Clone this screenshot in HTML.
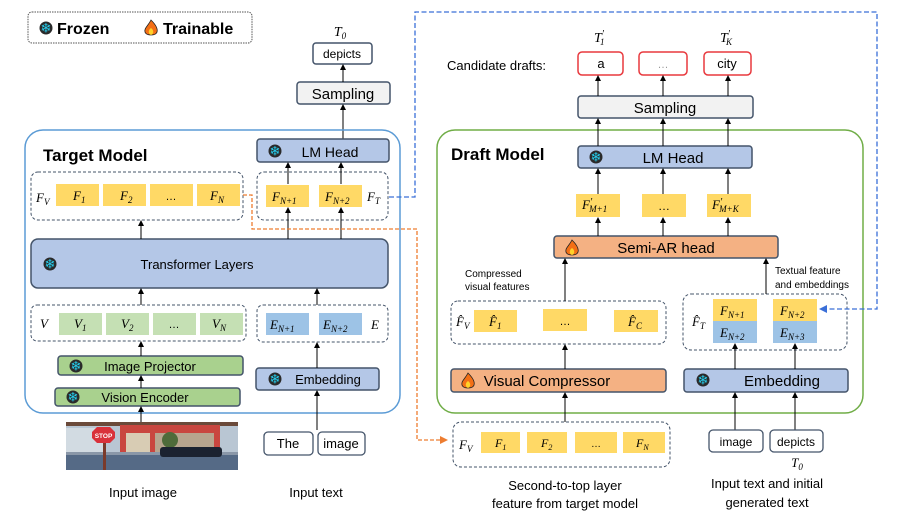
<!DOCTYPE html>
<html><head><meta charset="utf-8"><style>
html,body{margin:0;padding:0;background:#fff;}
svg{display:block;font-family:"Liberation Sans",sans-serif;}
.m{font-family:"Liberation Serif",serif;font-style:italic;}
</style></head><body>
<svg width="897" height="520" viewBox="0 0 897 520" xmlns="http://www.w3.org/2000/svg">
<defs>
<marker id="a" markerWidth="6" markerHeight="6" refX="5" refY="3" orient="auto" markerUnits="userSpaceOnUse"><path d="M0,0 L6,3 L0,6z" fill="#000"/></marker>
<marker id="ab" markerWidth="8" markerHeight="8" refX="7" refY="4" orient="auto" markerUnits="userSpaceOnUse"><path d="M0,0 L8,4 L0,8z" fill="#3a6fd8"/></marker>
<marker id="ao" markerWidth="8" markerHeight="8" refX="7" refY="4" orient="auto" markerUnits="userSpaceOnUse"><path d="M0,0 L8,4 L0,8z" fill="#ed7d31"/></marker>
<g id="snow"><circle cx="0" cy="0" r="6.5" fill="#2a2a2a"/><text x="0" y="4.5" font-size="13" text-anchor="middle" fill="#27d0f0" font-family="DejaVu Sans">❄</text></g>
<g id="fire"><path d="M0,-8 C5,-3 7,1 6,4 C5,8 -5,8 -6,4 C-7,0 -3,-2 0,-8z" fill="#f36f16" stroke="#222" stroke-width="0.8"/><path d="M0,0 C3,2 3,6 0,7 C-3,6 -3,2 0,0z" fill="#ffd22a"/></g>
</defs>

<!-- legend -->
<rect x="28" y="12" width="224" height="31" rx="4" fill="#fff" stroke="#555" stroke-dasharray="1.5,1"/>
<use href="#snow" x="46" y="28"/>
<text x="57" y="34" font-size="16" font-weight="bold">Frozen</text>
<use href="#fire" x="151" y="28"/>
<text x="163" y="34" font-size="16" font-weight="bold">Trainable</text>

<!-- target top -->
<text x="340" y="36" class="m" font-size="14" text-anchor="middle">T<tspan font-size="9" dy="3">0</tspan></text>
<rect x="313" y="43" width="59" height="21" rx="3" fill="#fff" stroke="#44546a" stroke-width="1.5"/>
<text x="342" y="58" font-size="12" text-anchor="middle">depicts</text>
<rect x="297" y="82" width="93" height="22" rx="3" fill="#f2f2f2" stroke="#44546a" stroke-width="1.5"/>
<text x="343" y="99" font-size="15" text-anchor="middle">Sampling</text>
<line x1="343" y1="82" x2="343" y2="65" stroke="#000" marker-end="url(#a)"/>
<line x1="343" y1="139" x2="343" y2="105" stroke="#000" marker-end="url(#a)"/>

<!-- Target model -->
<rect x="25" y="130" width="375" height="283" rx="18" fill="none" stroke="#5b9bd5" stroke-width="1.5"/>
<text x="43" y="161" font-size="17" font-weight="bold">Target Model</text>
<rect x="257" y="139" width="132" height="23" rx="3" fill="#b4c7e7" stroke="#44546a" stroke-width="1.5"/>
<use href="#snow" x="275" y="151"/>
<text x="330" y="157" font-size="14" text-anchor="middle">LM Head</text>

<rect x="31" y="172" width="212" height="48" rx="7" fill="#fff" stroke="#44546a" stroke-dasharray="3,2"/>
<text x="36" y="202" class="m" font-size="13">F<tspan font-size="9" dy="3">V</tspan></text>
<rect x="56" y="184" width="43" height="22" fill="#ffd966"/>
<rect x="103" y="184" width="43" height="22" fill="#ffd966"/>
<rect x="150" y="184" width="43" height="22" fill="#ffd966"/>
<rect x="197" y="184" width="43" height="22" fill="#ffd966"/>
<text x="73" y="200" class="m" font-size="13">F<tspan font-size="9" dy="3">1</tspan></text>
<text x="120" y="200" class="m" font-size="13">F<tspan font-size="9" dy="3">2</tspan></text>
<text x="171" y="200" font-size="11" text-anchor="middle">…</text>
<text x="210" y="200" class="m" font-size="13">F<tspan font-size="9" dy="3">N</tspan></text>

<rect x="257" y="172" width="131" height="48" rx="7" fill="#fff" stroke="#44546a" stroke-dasharray="3,2"/>
<rect x="266" y="185" width="43" height="22" fill="#ffd966"/>
<rect x="319" y="185" width="43" height="22" fill="#ffd966"/>
<text x="272" y="201" class="m" font-size="13">F<tspan font-size="9" dy="3">N+1</tspan></text>
<text x="325" y="201" class="m" font-size="13">F<tspan font-size="9" dy="3">N+2</tspan></text>
<text x="367" y="201" class="m" font-size="13">F<tspan font-size="9" dy="3">T</tspan></text>

<rect x="31" y="239" width="357" height="49" rx="7" fill="#b4c7e7" stroke="#44546a" stroke-width="1.5"/>
<use href="#snow" x="50" y="264"/>
<text x="197" y="269" font-size="13" text-anchor="middle">Transformer Layers</text>

<rect x="31" y="305" width="215" height="36" rx="6" fill="#fff" stroke="#44546a" stroke-dasharray="3,2"/>
<text x="40" y="328" class="m" font-size="13">V</text>
<rect x="59" y="313" width="43" height="22" fill="#c5e0b4"/>
<rect x="106" y="313" width="43" height="22" fill="#c5e0b4"/>
<rect x="153" y="313" width="43" height="22" fill="#c5e0b4"/>
<rect x="200" y="313" width="43" height="22" fill="#c5e0b4"/>
<text x="74" y="328" class="m" font-size="13">V<tspan font-size="9" dy="3">1</tspan></text>
<text x="121" y="328" class="m" font-size="13">V<tspan font-size="9" dy="3">2</tspan></text>
<text x="174" y="328" font-size="11" text-anchor="middle">…</text>
<text x="212" y="328" class="m" font-size="13">V<tspan font-size="9" dy="3">N</tspan></text>

<rect x="257" y="305" width="131" height="37" rx="6" fill="#fff" stroke="#44546a" stroke-dasharray="3,2"/>
<rect x="266" y="313" width="43" height="22" fill="#9dc3e6"/>
<rect x="319" y="313" width="43" height="22" fill="#9dc3e6"/>
<text x="270" y="329" class="m" font-size="13">E<tspan font-size="9" dy="3">N+1</tspan></text>
<text x="323" y="329" class="m" font-size="13">E<tspan font-size="9" dy="3">N+2</tspan></text>
<text x="371" y="329" class="m" font-size="13">E</text>

<rect x="58" y="356" width="185" height="19" rx="3" fill="#a9d18e" stroke="#44546a" stroke-width="1.5"/>
<use href="#snow" x="76" y="366"/>
<text x="150" y="371" font-size="13" text-anchor="middle">Image Projector</text>
<rect x="55" y="388" width="185" height="18" rx="3" fill="#a9d18e" stroke="#44546a" stroke-width="1.5"/>
<use href="#snow" x="73" y="397"/>
<text x="145" y="402" font-size="13" text-anchor="middle">Vision Encoder</text>
<rect x="256" y="368" width="123" height="22" rx="3" fill="#b4c7e7" stroke="#44546a" stroke-width="1.5"/>
<use href="#snow" x="275" y="379"/>
<text x="328" y="384" font-size="13" text-anchor="middle">Embedding</text>

<g stroke="#000" marker-end="url(#a)">
<line x1="288" y1="184" x2="288" y2="163"/>
<line x1="341" y1="184" x2="341" y2="163"/>
<line x1="288" y1="239" x2="288" y2="208"/>
<line x1="341" y1="239" x2="341" y2="208"/>
<line x1="141" y1="239" x2="141" y2="221"/>
<line x1="141" y1="305" x2="141" y2="289"/>
<line x1="317" y1="305" x2="317" y2="289"/>
<line x1="141" y1="356" x2="141" y2="342"/>
<line x1="317" y1="368" x2="317" y2="343"/>
<line x1="141" y1="388" x2="141" y2="376"/>
<line x1="141" y1="422" x2="141" y2="407"/>
<line x1="317" y1="430" x2="317" y2="391"/>
</g>

<!-- input image -->
<rect x="66" y="422" width="172" height="48" fill="#b9c6d3"/>
<rect x="66" y="422" width="172" height="4" fill="#6b4a3a"/>
<rect x="120" y="425" width="100" height="8" fill="#c9463f"/>
<rect x="120" y="425" width="6" height="30" fill="#c9463f"/>
<rect x="150" y="425" width="5" height="30" fill="#c9463f"/>
<rect x="214" y="425" width="6" height="30" fill="#c9463f"/>
<rect x="126" y="433" width="24" height="20" fill="#d8ccb4"/>
<rect x="155" y="433" width="59" height="20" fill="#b7a58e"/>
<circle cx="170" cy="440" r="8" fill="#4e6b3a"/>
<rect x="66" y="428" width="40" height="25" fill="#d2dbe2"/>
<rect x="66" y="452" width="172" height="18" fill="#556a86"/>
<rect x="66" y="452" width="172" height="3" fill="#8a97a8"/>
<rect x="160" y="447" width="62" height="10" rx="3" fill="#1b2230"/>
<polygon points="97,427 110,427 115,432 115,438 110,443 97,443 92,438 92,432" fill="#d9313a"/>
<text x="103.5" y="438" font-size="6.5" fill="#fff" text-anchor="middle" font-weight="bold">STOP</text>
<rect x="103" y="443" width="3" height="27" fill="#7a3a2a"/>
<text x="143" y="497" font-size="13" text-anchor="middle">Input image</text>
<rect x="264" y="432" width="49" height="23" rx="4" fill="#fff" stroke="#44546a" stroke-width="1.3"/>
<text x="288" y="448" font-size="13" text-anchor="middle">The</text>
<rect x="318" y="432" width="47" height="23" rx="4" fill="#fff" stroke="#44546a" stroke-width="1.3"/>
<text x="341" y="448" font-size="13" text-anchor="middle">image</text>
<text x="316" y="497" font-size="13" text-anchor="middle">Input text</text>

<!-- draft top -->
<text x="594" y="42" class="m" font-size="14">T<tspan font-size="10" dy="-5">′</tspan><tspan font-size="9" dy="8" dx="-4">1</tspan></text>
<text x="720" y="42" class="m" font-size="14">T<tspan font-size="10" dy="-5">′</tspan><tspan font-size="9" dy="8" dx="-4">K</tspan></text>
<text x="447" y="70" font-size="13">Candidate drafts:</text>
<rect x="578" y="52" width="45" height="23" rx="4" fill="#fff" stroke="#e8383d" stroke-width="1.5"/>
<text x="601" y="68" font-size="13" text-anchor="middle">a</text>
<rect x="639" y="52" width="48" height="23" rx="4" fill="#fff" stroke="#e8383d" stroke-width="1.5"/>
<text x="663" y="68" font-size="11" fill="#999" text-anchor="middle">…</text>
<rect x="704" y="52" width="47" height="23" rx="4" fill="#fff" stroke="#e8383d" stroke-width="1.5"/>
<text x="727" y="68" font-size="13" text-anchor="middle">city</text>
<rect x="578" y="96" width="175" height="22" rx="3" fill="#f2f2f2" stroke="#44546a" stroke-width="1.5"/>
<text x="665" y="113" font-size="15" text-anchor="middle">Sampling</text>

<!-- Draft model -->
<rect x="437" y="130" width="426" height="283" rx="18" fill="none" stroke="#70ad47" stroke-width="1.5"/>
<text x="451" y="160" font-size="17" font-weight="bold">Draft Model</text>
<rect x="578" y="146" width="174" height="22" rx="3" fill="#b4c7e7" stroke="#44546a" stroke-width="1.5"/>
<use href="#snow" x="596" y="157"/>
<text x="673" y="163" font-size="15" text-anchor="middle">LM Head</text>
<rect x="576" y="194" width="44" height="23" fill="#ffd966"/>
<rect x="642" y="194" width="44" height="23" fill="#ffd966"/>
<rect x="707" y="194" width="44" height="23" fill="#ffd966"/>
<text x="582" y="209" class="m" font-size="13">F<tspan font-size="10" dy="-4">′</tspan><tspan font-size="9" dy="7" dx="-3">M+1</tspan></text>
<text x="664" y="210" font-size="12" text-anchor="middle">…</text>
<text x="712" y="209" class="m" font-size="13">F<tspan font-size="10" dy="-4">′</tspan><tspan font-size="9" dy="7" dx="-3">M+K</tspan></text>
<rect x="554" y="236" width="224" height="22" rx="3" fill="#f4b183" stroke="#44546a" stroke-width="1.5"/>
<use href="#fire" x="572" y="248"/>
<text x="666" y="253" font-size="15" text-anchor="middle">Semi-AR head</text>
<text x="465" y="277" font-size="10">Compressed</text>
<text x="465" y="290" font-size="10">visual features</text>
<text x="775" y="274" font-size="10">Textual feature</text>
<text x="775" y="288" font-size="10">and embeddings</text>

<rect x="451" y="301" width="215" height="43" rx="7" fill="#fff" stroke="#44546a" stroke-dasharray="3,2"/>
<text x="456" y="326" class="m" font-size="13">F̂<tspan font-size="9" dy="3">V</tspan></text>
<rect x="474" y="310" width="43" height="22" fill="#ffd966"/>
<rect x="543" y="309" width="44" height="22" fill="#ffd966"/>
<rect x="614" y="310" width="44" height="22" fill="#ffd966"/>
<text x="489" y="326" class="m" font-size="13">F̂<tspan font-size="9" dy="3">1</tspan></text>
<text x="565" y="325" font-size="11" text-anchor="middle">…</text>
<text x="628" y="326" class="m" font-size="13">F̂<tspan font-size="9" dy="3">C</tspan></text>

<rect x="683" y="294" width="164" height="56" rx="8" fill="#fff" stroke="#44546a" stroke-dasharray="3,2"/>
<text x="692" y="326" class="m" font-size="13">F̂<tspan font-size="9" dy="3">T</tspan></text>
<rect x="713" y="299" width="44" height="22" fill="#ffd966"/>
<rect x="713" y="321" width="44" height="22" fill="#9dc3e6"/>
<rect x="773" y="299" width="44" height="22" fill="#ffd966"/>
<rect x="773" y="321" width="44" height="22" fill="#9dc3e6"/>
<text x="720" y="315" class="m" font-size="13">F<tspan font-size="9" dy="3">N+1</tspan></text>
<text x="720" y="337" class="m" font-size="13">E<tspan font-size="9" dy="3">N+2</tspan></text>
<text x="780" y="315" class="m" font-size="13">F<tspan font-size="9" dy="3">N+2</tspan></text>
<text x="780" y="337" class="m" font-size="13">E<tspan font-size="9" dy="3">N+3</tspan></text>

<rect x="451" y="369" width="215" height="23" rx="3" fill="#f4b183" stroke="#44546a" stroke-width="1.5"/>
<use href="#fire" x="468" y="381"/>
<text x="547" y="386" font-size="15" text-anchor="middle">Visual Compressor</text>
<rect x="684" y="369" width="164" height="23" rx="3" fill="#b4c7e7" stroke="#44546a" stroke-width="1.5"/>
<use href="#snow" x="703" y="380"/>
<text x="782" y="386" font-size="15" text-anchor="middle">Embedding</text>

<g stroke="#000" marker-end="url(#a)">
<line x1="598" y1="96" x2="598" y2="76"/>
<line x1="663" y1="96" x2="663" y2="76"/>
<line x1="728" y1="96" x2="728" y2="76"/>
<line x1="598" y1="146" x2="598" y2="119"/>
<line x1="663" y1="146" x2="663" y2="119"/>
<line x1="728" y1="146" x2="728" y2="119"/>
<line x1="598" y1="194" x2="598" y2="169"/>
<line x1="663" y1="194" x2="663" y2="169"/>
<line x1="728" y1="194" x2="728" y2="169"/>
<line x1="598" y1="236" x2="598" y2="218"/>
<line x1="663" y1="236" x2="663" y2="218"/>
<line x1="728" y1="236" x2="728" y2="218"/>
<line x1="565" y1="301" x2="565" y2="259"/>
<line x1="766" y1="294" x2="766" y2="259"/>
<line x1="565" y1="369" x2="565" y2="345"/>
<line x1="735" y1="369" x2="735" y2="344"/>
<line x1="795" y1="369" x2="795" y2="344"/>
<line x1="565" y1="422" x2="565" y2="393"/>
<line x1="735" y1="430" x2="735" y2="393"/>
<line x1="795" y1="430" x2="795" y2="393"/>
</g>

<!-- bottom draft inputs -->
<rect x="453" y="422" width="217" height="45" rx="8" fill="#fff" stroke="#44546a" stroke-dasharray="3,2"/>
<text x="459" y="449" class="m" font-size="13">F<tspan font-size="9" dy="3">V</tspan></text>
<rect x="481" y="432" width="39" height="21" fill="#ffd966"/>
<rect x="527" y="432" width="40" height="21" fill="#ffd966"/>
<rect x="575" y="432" width="42" height="21" fill="#ffd966"/>
<rect x="623" y="432" width="42" height="21" fill="#ffd966"/>
<text x="495" y="447" class="m" font-size="12">F<tspan font-size="8" dy="3">1</tspan></text>
<text x="541" y="447" class="m" font-size="12">F<tspan font-size="8" dy="3">2</tspan></text>
<text x="596" y="447" font-size="10" text-anchor="middle">…</text>
<text x="636" y="447" class="m" font-size="12">F<tspan font-size="8" dy="3">N</tspan></text>
<text x="565" y="490" font-size="13" text-anchor="middle">Second-to-top layer</text>
<text x="565" y="508" font-size="13" text-anchor="middle">feature from target model</text>
<rect x="709" y="430" width="54" height="22" rx="4" fill="#fff" stroke="#44546a" stroke-width="1.3"/>
<text x="736" y="446" font-size="12" text-anchor="middle">image</text>
<rect x="770" y="430" width="53" height="22" rx="4" fill="#fff" stroke="#44546a" stroke-width="1.3"/>
<text x="796" y="446" font-size="12" text-anchor="middle">depicts</text>
<text x="797" y="467" class="m" font-size="13" text-anchor="middle">T<tspan font-size="9" dy="3">0</tspan></text>
<text x="767" y="488" font-size="13" text-anchor="middle">Input text and initial</text>
<text x="767" y="507" font-size="13" text-anchor="middle">generated text</text>

<!-- dashed connectors -->
<polyline points="389,197 415,197 415,12 877,12 877,309 820,309" fill="none" stroke="#3a6fd8" stroke-width="1.3" stroke-dasharray="5,2.5" marker-end="url(#ab)"/>
<polyline points="243,195 252,195 252,229 417,229 417,440 447,440" fill="none" stroke="#ed7d31" stroke-width="1.3" stroke-dasharray="4,2" marker-end="url(#ao)"/>
</svg>
</body></html>
